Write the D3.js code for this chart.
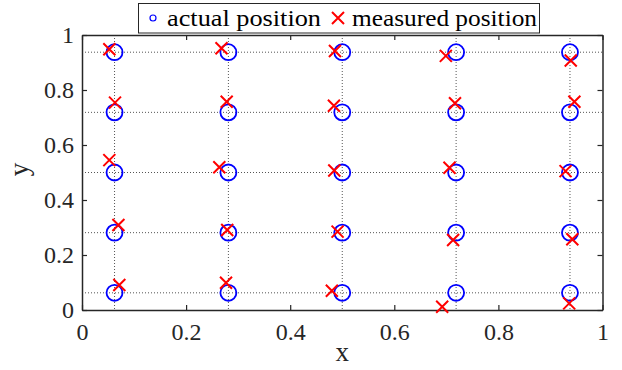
<!DOCTYPE html>
<html>
  <head>
    <meta charset="utf-8">
    <title>actual vs measured position</title>
    <script src="https://cdn.jsdelivr.net/npm/d3@7"></script>
  </head>
  <body style="margin:0">
    <svg width="622" height="370"></svg>
    <script>
      // grid of actual positions (same in x and y)
      var gridPos = [0.0625, 0.28125, 0.5, 0.71875, 0.9375];
      var ticks = [0, 0.2, 0.4, 0.6, 0.8, 1];
      var tickLabels = ["0", "0.2", "0.4", "0.6", "0.8", "1"];

      // measured positions, row by row from the top
      var measuredX = [
        0.0525, 0.268, 0.486, 0.699, 0.939,
        0.0634, 0.278, 0.484, 0.7166, 0.946,
        0.0525, 0.2638, 0.4847, 0.706, 0.929,
        0.070, 0.279, 0.491, 0.713, 0.942,
        0.0717, 0.2767, 0.480, 0.692, 0.936
      ];
      var measuredY = [
        0.948, 0.952, 0.942, 0.924, 0.907,
        0.754, 0.757, 0.743, 0.752, 0.757,
        0.545, 0.519, 0.507, 0.517, 0.505,
        0.309, 0.291, 0.285, 0.2545, 0.257,
        0.091, 0.099, 0.070, 0.012, 0.024
      ];

      var FONT = "Liberation Serif";
      var INK = "#262626";

      var svg = d3.select("svg");
      var margin = {left: 82, right: 19.5, top: 35, bottom: 60};
      var w = 622 - margin.left - margin.right;
      var h = 370 - margin.top - margin.bottom;

      var x = d3.scaleLinear().domain([0, 1]).range([0, w]);
      var y = d3.scaleLinear().domain([0, 1]).range([h, 0]);

      var g = svg.append("g").attr("transform", "translate(" + margin.left + "," + margin.top + ")");

      // dotted grid at the actual positions
      var grid = g.append("g").attr("stroke", "#555").attr("stroke-width", 1).attr("stroke-dasharray", "1 2");
      grid.selectAll(".gx").data(gridPos).enter().append("line")
          .attr("x1", d => x(d)).attr("x2", d => x(d))
          .attr("y1", 0).attr("y2", h);
      grid.selectAll(".gy").data(gridPos).enter().append("line")
          .attr("y1", d => y(d)).attr("y2", d => y(d))
          .attr("x1", 0).attr("x2", w);

      // axes, ticks pointing inward on all four sides
      var fmt = (d, i) => tickLabels[i];
      var xb = g.append("g").attr("transform", "translate(0," + h + ")")
          .call(d3.axisBottom(x).tickValues(ticks).tickFormat(fmt).tickSizeInner(-5).tickSizeOuter(0).tickPadding(13));
      var yl = g.append("g")
          .call(d3.axisLeft(y).tickValues(ticks).tickFormat(fmt).tickSizeInner(-5).tickSizeOuter(0).tickPadding(8));
      var xt = g.append("g")
          .call(d3.axisTop(x).tickValues(ticks).tickFormat("").tickSizeInner(-5).tickSizeOuter(0));
      var yr = g.append("g").attr("transform", "translate(" + w + ",0)")
          .call(d3.axisRight(y).tickValues(ticks).tickFormat("").tickSizeInner(-5).tickSizeOuter(0));
      [xb, yl, xt, yr].forEach(function(a) {
        a.attr("font-family", FONT).attr("font-size", 24);
        a.select(".domain").attr("stroke", INK).attr("stroke-width", 1.5);
        a.selectAll(".tick line").attr("stroke", INK).attr("stroke-width", 1.2);
        a.selectAll("text").attr("fill", INK);
      });

      // actual positions
      var actual = [];
      gridPos.slice().reverse().forEach(function(py) {
        gridPos.forEach(function(px) { actual.push([px, py]); });
      });
      g.selectAll(".act").data(actual).enter().append("circle")
          .attr("cx", d => x(d[0])).attr("cy", d => y(d[1])).attr("r", 8)
          .attr("fill", "none").attr("stroke", "#0000ff").attr("stroke-width", 1.8);

      // measured positions
      var s = 6;
      var meas = measuredX.map((v, i) => [v, measuredY[i]]);
      g.selectAll(".meas").data(meas).enter().append("path")
          .attr("d", function(d) {
            var cx = x(d[0]), cy = y(d[1]);
            return "M" + (cx - s) + "," + (cy - s) + "L" + (cx + s) + "," + (cy + s) +
                   "M" + (cx - s) + "," + (cy + s) + "L" + (cx + s) + "," + (cy - s);
          })
          .attr("stroke", "#ff0000").attr("stroke-width", 2).attr("fill", "none");

      // axis labels
      svg.append("text").attr("x", margin.left + w / 2).attr("y", 361)
          .attr("text-anchor", "middle").attr("font-family", FONT).attr("font-size", 27)
          .attr("fill", INK).text("x");
      svg.append("text").attr("transform", "translate(28," + (margin.top + h / 2 - 3) + ") rotate(-90)")
          .attr("text-anchor", "middle").attr("font-family", FONT).attr("font-size", 27)
          .attr("fill", INK).text("y");

      // legend
      var leg = svg.append("g").attr("font-family", FONT).attr("font-size", 24);
      leg.append("rect").attr("x", 138.5).attr("y", 3.5).attr("width", 401).attr("height", 29.5)
          .attr("fill", "#fff").attr("stroke", INK).attr("stroke-width", 1);
      leg.append("circle").attr("cx", 153).attr("cy", 18).attr("r", 3)
          .attr("fill", "none").attr("stroke", "#0000ff").attr("stroke-width", 1.2);
      leg.append("text").attr("x", 167).attr("y", 25.5)
          .attr("fill", "#000").attr("textLength", 154).attr("lengthAdjust", "spacingAndGlyphs")
          .text("actual position");
      leg.append("path")
          .attr("d", "M332,12L344,24M332,24L344,12")
          .attr("stroke", "#ff0000").attr("stroke-width", 2);
      leg.append("text").attr("x", 352).attr("y", 25.5)
          .attr("fill", "#000").attr("textLength", 185).attr("lengthAdjust", "spacingAndGlyphs")
          .text("measured position");
    </script>
  </body>
</html>
